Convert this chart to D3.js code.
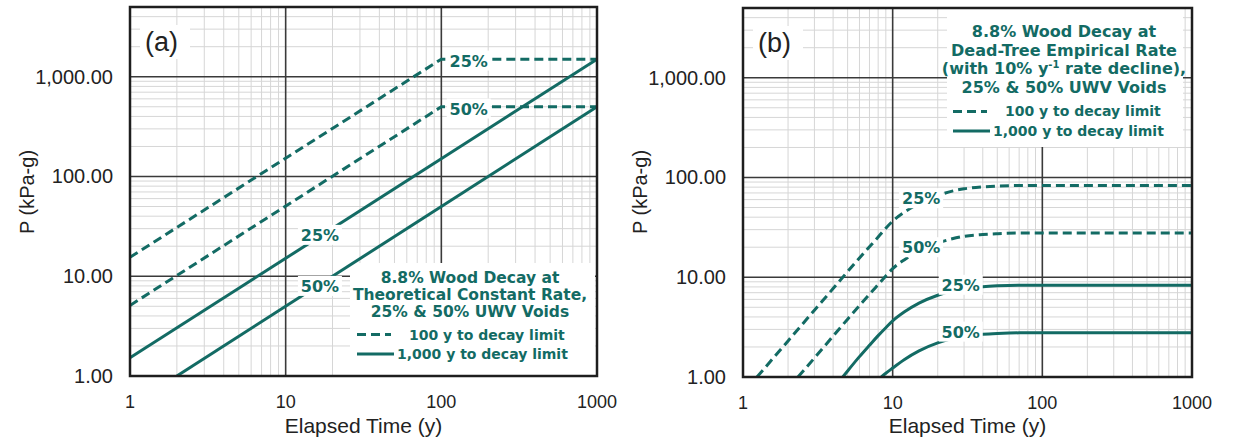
<!DOCTYPE html>
<html>
<head>
<meta charset="utf-8">
<script src="https://cdn.jsdelivr.net/npm/d3@7"></script>
<style>
    body{ margin:0; background:#fff; }
    text{ font-family:"Liberation Sans", Arial, sans-serif; fill:#222; }
    .teal{ font-family:"DejaVu Sans", sans-serif; font-weight:bold; fill:#136b64; }
</style>
</head>
<body>
<svg id="chart" width="1233" height="441"></svg>
<script>
// ---- data ----
// panel (a): theoretical constant rate, [years, kPa-g]
var a_dash25  = [[1, 15.5], [100, 1500], [1000, 1500]];
var a_dash50  = [[1, 5.1], [100, 500], [1000, 500]];
var a_solid25 = [[1, 1.52], [1000, 1500]];
var a_solid50 = [[2, 1], [1000, 500]];
var a_labels  = [["25%", 150, 1450], ["50%", 150, 480], ["25%", 16.6, 26], ["50%", 16.6, 8.0]];

// panel (b): dead-tree empirical rate
var b_dash25  = [[1.24, 1], [2, 2.3], [3, 4.67], [4, 7.7], [5, 11.4], [6, 15.6], [7, 20.2], [8, 25.3], [9, 31],
                 [10, 36.5], [12, 45], [15, 55], [20, 66], [25, 73], [30, 77], [40, 80.5], [50, 82], [70, 83], [1000, 83]];
var b_dash50  = [[2.33, 1], [3, 1.55], [4, 2.57], [5, 3.8], [6, 5.2], [7, 6.75], [8, 8.45], [9, 10.3], [10, 12.2],
                 [12, 15], [15, 18.3], [20, 22], [25, 24.3], [30, 25.7], [40, 26.8], [50, 27.3], [70, 27.7], [1000, 27.7]];
var b_solid25 = [[4.64, 1], [5, 1.15], [6, 1.6], [7, 2.08], [8, 2.6], [9, 3.12], [10, 3.65], [12, 4.5], [15, 5.5],
                 [20, 6.6], [25, 7.3], [30, 7.7], [40, 8.05], [50, 8.2], [70, 8.3], [1000, 8.3]];
var b_solid50 = [[8.4, 1], [9, 1.09], [10, 1.23], [12, 1.5], [15, 1.83], [20, 2.2], [25, 2.43], [30, 2.57],
                 [40, 2.68], [50, 2.73], [70, 2.77], [1000, 2.77]];
var b_labels  = [["25%", 15.5, 62], ["50%", 15.5, 20], ["25%", 28.5, 8.4], ["50%", 28.5, 2.85]];

var xTicks = [1, 10, 100, 1000];
var xTickLabels = ["1", "10", "100", "1000"];
var yTicks = [1, 10, 100, 1000];
var yTickLabels = ["1.00", "10.00", "100.00", "1,000.00"];

var a_legend = ["8.8% Wood Decay at", "Theoretical Constant Rate,", "25% & 50% UWV Voids"];
var b_legend = ["8.8% Wood Decay at", "Dead-Tree Empirical Rate", "(with 10% y|-1| rate decline),", "25% & 50% UWV Voids"];
var legendRows = ["100 y to decay limit", "1,000 y to decay limit"];

var TEAL = "#136b64";
var svg = d3.select("#chart");

function drawPanel(o){
    var x = d3.scaleLog().domain([1, 1000]).range([o.left, o.right]);
    var y = d3.scaleLog().domain([1, 5000]).range([o.bottom, o.top]);
    var g = svg.append("g");

    // minor grid
    var minorX = [], minorY = [];
    [1, 10, 100].forEach(function(d){ for(var k = 2; k <= 9; k++) minorX.push(d * k); });
    [1, 10, 100, 1000].forEach(function(d){ for(var k = 2; k <= 9; k++) if(d * k < 5000) minorY.push(d * k); });
    g.selectAll(".mx").data(minorX).enter().append("line")
        .attr("x1", x).attr("x2", x).attr("y1", o.top).attr("y2", o.bottom)
        .attr("stroke", "#d6d6d6").attr("stroke-width", 1);
    g.selectAll(".my").data(minorY).enter().append("line")
        .attr("y1", y).attr("y2", y).attr("x1", o.left).attr("x2", o.right)
        .attr("stroke", "#d6d6d6").attr("stroke-width", 1);
    // major grid
    g.selectAll(".Mx").data(xTicks.slice(1, 3)).enter().append("line")
        .attr("x1", x).attr("x2", x).attr("y1", o.top).attr("y2", o.bottom)
        .attr("stroke", "#3a3a3a").attr("stroke-width", 1.6);
    g.selectAll(".My").data(yTicks.slice(1)).enter().append("line")
        .attr("y1", y).attr("y2", y).attr("x1", o.left).attr("x2", o.right)
        .attr("stroke", "#3a3a3a").attr("stroke-width", 1.6);

    // white boxes: legend and panel tag
    g.append("rect").attr("x", o.legBox[0]).attr("y", o.legBox[1])
        .attr("width", o.legBox[2]).attr("height", o.legBox[3]).attr("fill", "#fff");
    g.append("rect").attr("x", o.left + 10).attr("y", o.top + 18)
        .attr("width", 50).attr("height", 34).attr("fill", "#fff");
    g.append("text").attr("x", o.left + 15).attr("y", o.top + 44)
        .style("font-size", "27px").text(o.tag);

    // curves
    var line = d3.line().x(function(d){ return x(d[0]); }).y(function(d){ return y(d[1]); })
        .curve(o.curve);
    var clip = "clip" + o.tag.replace(/\W/g, "");
    svg.append("clipPath").attr("id", clip).append("rect")
        .attr("x", o.left).attr("y", o.top).attr("width", o.right - o.left).attr("height", o.bottom - o.top);
    var cg = g.append("g").attr("clip-path", "url(#" + clip + ")");
    o.series.forEach(function(s){
        cg.append("path").datum(s.data).attr("d", line)
            .attr("fill", "none").attr("stroke", TEAL).attr("stroke-width", 3)
            .attr("stroke-dasharray", s.dashed ? "9,5" : null);
    });

    // curve labels
    o.labels.forEach(function(l){
        var cx = x(l[1]), cy = y(l[2]);
        g.append("rect").attr("x", cx - 22).attr("y", cy - 10).attr("width", 44).attr("height", 20).attr("fill", "#fff");
        g.append("text").attr("class", "teal").attr("x", cx).attr("y", cy + 6)
            .attr("text-anchor", "middle").style("font-size", "16px").text(l[0]);
    });

    // legend text
    o.legend.forEach(function(t, i){
        var tx = g.append("text").attr("class", "teal").attr("x", o.legX).attr("y", o.legY + i * o.legStep)
            .attr("text-anchor", "middle").style("font-size", o.legFont + "px");
        var parts = t.split("|");
        tx.append("tspan").text(parts[0]);
        if(parts.length > 1){
            tx.append("tspan").attr("dy", -6).style("font-size", "10px").text(parts[1]);
            tx.append("tspan").attr("dy", 6).text(parts[2]);
        }
    });
    var ry = o.legY + o.legend.length * o.legStep + 5;
    legendRows.forEach(function(t, i){
        var yy = ry + i * 19.5;
        g.append("line").attr("x1", o.sampleX).attr("x2", o.sampleX + (i ? 37 : 34))
            .attr("y1", yy - 5).attr("y2", yy - 5).attr("stroke", TEAL).attr("stroke-width", 3)
            .attr("stroke-dasharray", i ? null : "9,5");
        g.append("text").attr("class", "teal").attr("x", o.sampleX + (i ? 40 : 52)).attr("y", yy)
            .style("font-size", "14px").text(t);
    });

    // frame
    g.append("rect").attr("x", o.left).attr("y", o.top)
        .attr("width", o.right - o.left).attr("height", o.bottom - o.top)
        .attr("fill", "none").attr("stroke", "#1e1e1e").attr("stroke-width", 2.5);

    // tick labels
    g.selectAll(".xt").data(xTicks).enter().append("text")
        .attr("x", x).attr("y", o.bottom + 32).attr("text-anchor", "middle")
        .style("font-size", "18px").text(function(d, i){ return xTickLabels[i]; });
    g.selectAll(".yt").data(yTicks).enter().append("text")
        .attr("x", o.left - 17).attr("y", y).attr("dy", "0.35em").attr("text-anchor", "end")
        .style("font-size", "20px").text(function(d, i){ return yTickLabels[i]; });

    // axis titles
    g.append("text").attr("x", (o.left + o.right) / 2).attr("y", 433).attr("text-anchor", "middle")
        .style("font-size", "21px").text("Elapsed Time (y)");
    g.append("text").attr("transform", "translate(" + (o.left - 96) + "," + 192 + ") rotate(-90)")
        .attr("text-anchor", "middle").style("font-size", "20px").text("P (kPa-g)");
}

drawPanel({
    tag: "(a)", left: 130, right: 597, top: 7, bottom: 376, curve: d3.curveLinear,
    series: [{data: a_dash25, dashed: true}, {data: a_dash50, dashed: true},
             {data: a_solid25, dashed: false}, {data: a_solid50, dashed: false}],
    labels: a_labels, legend: a_legend, legFont: 15.5,
    legBox: [350, 263, 245, 112], legX: 470, legY: 283, legStep: 17.2, sampleX: 357
});
drawPanel({
    tag: "(b)", left: 743, right: 1192, top: 8, bottom: 377, curve: d3.curveMonotoneX,
    series: [{data: b_dash25, dashed: true}, {data: b_dash50, dashed: true},
             {data: b_solid25, dashed: false}, {data: b_solid50, dashed: false}],
    labels: b_labels, legend: b_legend, legFont: 16,
    legBox: [947, 9, 236, 138], legX: 1064, legY: 37, legStep: 18.6, sampleX: 953
});
</script>
</body>
</html>
